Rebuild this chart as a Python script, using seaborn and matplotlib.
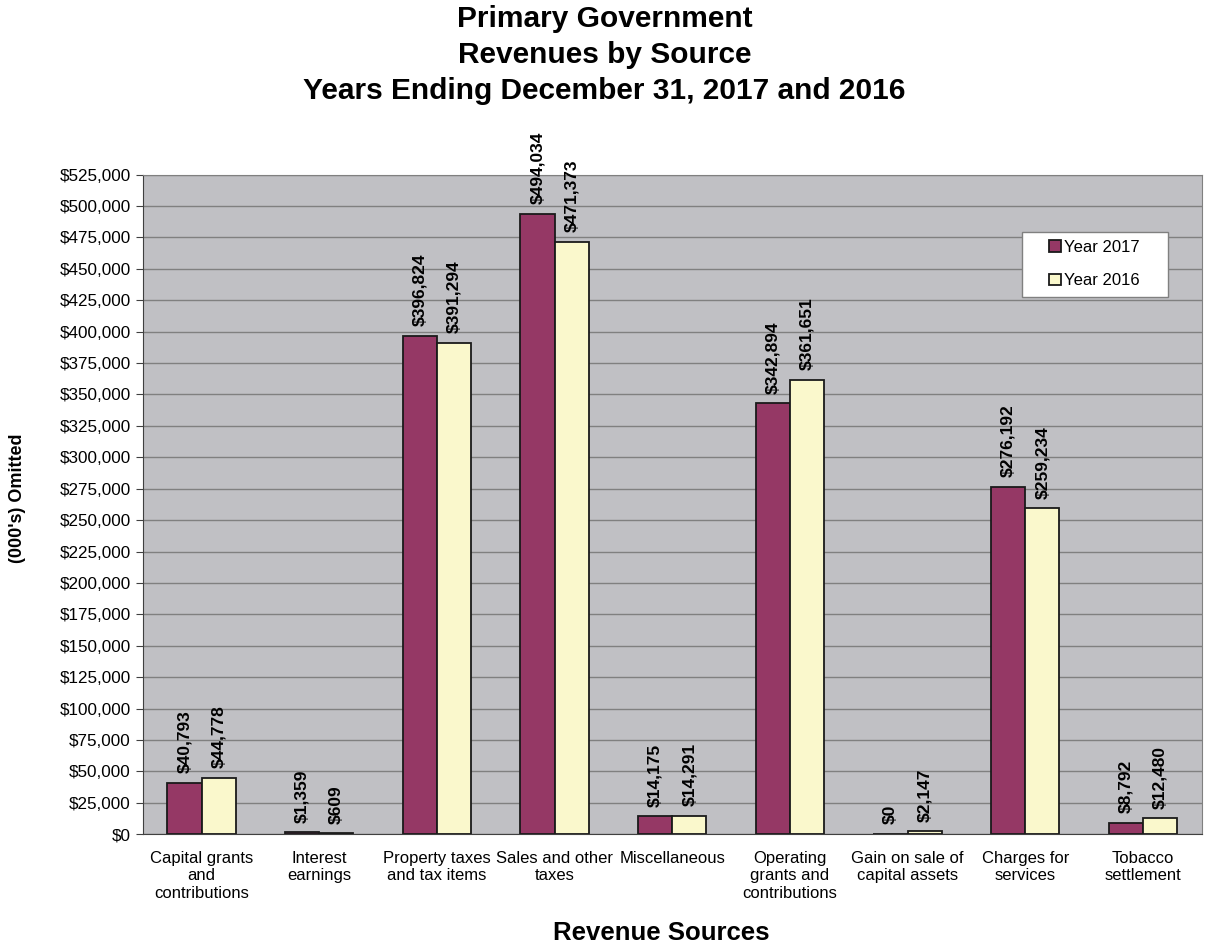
import numpy as np
import pandas as pd
import matplotlib
matplotlib.use("Agg")
import matplotlib.pyplot as plt
import seaborn as sns
from matplotlib.patches import Rectangle
from matplotlib.ticker import FuncFormatter, MultipleLocator

# data (in thousands)
sources = ["Capital grants\nand\ncontributions", "Interest\nearnings",
           "Property taxes\nand tax items", "Sales and other\ntaxes",
           "Miscellaneous", "Operating\ngrants and\ncontributions",
           "Gain on sale of\ncapital assets", "Charges for\nservices",
           "Tobacco\nsettlement"]
year_2017 = [40793, 1359, 396824, 494034, 14175, 342894, 0, 276192, 8792]
year_2016 = [44778, 609, 391294, 471373, 14291, 361651, 2147, 259234, 12480]
years = ["Year 2017", "Year 2016"]
colors = ["#953865", "#FAF8CC"]

df = pd.DataFrame({
    "Source": sources * 2,
    "Year": [years[0]] * len(sources) + [years[1]] * len(sources),
    "Amount": year_2017 + year_2016,
})

sns.set_style("white")
plt.rcParams["font.family"] = ["Liberation Sans", "DejaVu Sans"]
plt.rcParams["text.color"] = "black"
plt.rcParams["axes.labelcolor"] = "black"
plt.rcParams["xtick.color"] = "black"
plt.rcParams["ytick.color"] = "black"

fig = plt.figure(figsize=(12.09, 9.49), dpi=100)
ax = fig.add_axes([0.118, 0.121, 0.876, 0.695])
ax.set_facecolor("#C0C0C4")

sns.barplot(data=df, x="Source", y="Amount", hue="Year", palette=colors,
            saturation=1, width=0.58, edgecolor="#1a1a1a", linewidth=1.3, ax=ax)

# value labels
for cont in ax.containers:
    ax.bar_label(cont, labels=[f"${v:,.0f}" for v in cont.datavalues],
                 rotation=90, padding=7, fontsize=12.5, fontweight="bold")

ax.set_ylim(0, 525000)
ax.set_xlim(-0.5, len(sources) - 0.5)
ax.yaxis.set_major_locator(MultipleLocator(25000))
ax.yaxis.set_major_formatter(FuncFormatter(lambda v, p: f"${v:,.0f}"))
ax.grid(axis="y", color="#808080", linewidth=1)
ax.set_axisbelow(True)
for s in ax.spines.values():
    s.set_color("#808080")
ax.spines["left"].set_color("#404040")
ax.spines["bottom"].set_color("#404040")
ax.tick_params(axis="y", labelsize=12.3, length=5, direction="out", left=True, color="#404040")
ax.tick_params(axis="x", labelsize=12, length=0, pad=12)
ax.set_xticks(np.arange(len(sources)) + 0.5, minor=True)
ax.tick_params(axis="x", which="minor", length=6, color="#404040")

ax.set_xlabel("Revenue Sources", fontsize=18.5, fontweight="bold", va="center")
ax.xaxis.set_label_coords(0.49, -0.15)
ax.set_ylabel("(000's) Omitted", fontsize=13, fontweight="bold", va="center")
ax.yaxis.set_label_coords(-0.118, 0.51)
fig.suptitle("Primary Government\nRevenues by Source\nYears Ending December 31, 2017 and 2016",
             fontsize=21.5, fontweight="bold", y=0.995, linespacing=1.38)

# legend box
ax.add_patch(Rectangle((0.830, 0.815), 0.138, 0.0986, transform=ax.transAxes,
                       facecolor="white", edgecolor="#808080", linewidth=1, zorder=4))
leg = ax.legend(loc="center", bbox_to_anchor=(0.899, 0.864), fontsize=12,
                frameon=False, handlelength=0.7, handleheight=0.7,
                handletextpad=0.2, labelspacing=1.1)
leg.set_zorder(5)

fig.savefig("out.png", dpi=100)
